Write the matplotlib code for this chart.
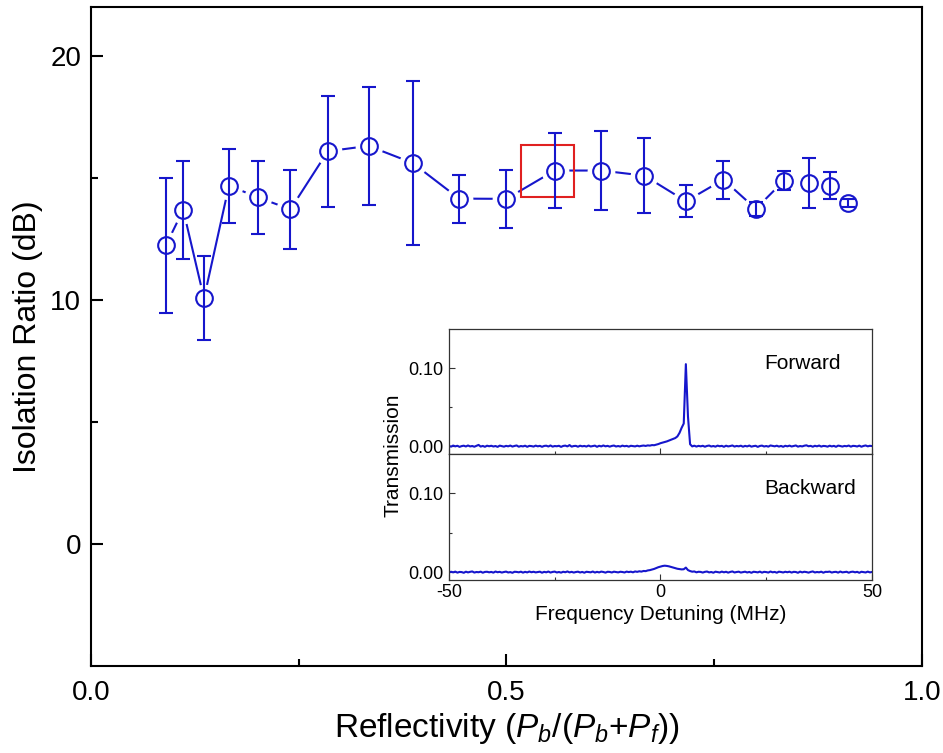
import numpy as np
import matplotlib
matplotlib.use('Agg')
import matplotlib.pyplot as plt
from matplotlib.patches import Rectangle
from matplotlib.ticker import FixedLocator, FormatStrFormatter

plt.rcParams['font.family'] = ['Liberation Sans', 'DejaVu Sans']
plt.rcParams['mathtext.fontset'] = 'custom'
plt.rcParams['mathtext.rm'] = 'Liberation Sans'
plt.rcParams['mathtext.it'] = 'Liberation Sans:italic'
plt.rcParams['axes.unicode_minus'] = False

# main data: isolation ratio vs reflectivity
reflectivity = [0.090, 0.111, 0.136, 0.166, 0.201, 0.240, 0.285, 0.334, 0.387, 0.443, 0.500,
                0.558, 0.614, 0.666, 0.716, 0.761, 0.800, 0.834, 0.864, 0.889, 0.911]
isolation = [12.23, 13.69, 10.06, 14.68, 14.20, 13.71, 16.09, 16.31, 15.61, 14.15, 14.14,
             15.30, 15.30, 15.09, 14.04, 14.93, 13.73, 14.89, 14.79, 14.68, 13.96]
iso_err = [2.76, 2.00, 1.72, 1.52, 1.50, 1.62, 2.27, 2.41, 3.36, 0.98, 1.20,
           1.53, 1.61, 1.53, 0.65, 0.78, 0.30, 0.40, 1.03, 0.55, 0.17]

# highlighted point (red box)
box_x0, box_x1 = 0.5175, 0.5816
box_y0, box_y1 = 14.20, 16.36

# inset spectra, transmission in units of 1e-3, sampled every 0.5 MHz from -50 to 50
forward_trace = [
    0.3, -0.6, 0.8, -0.2, 0.5, -0.9, 0.1, 0.6, -0.4, 0.9, -0.3, 0.2, -0.7, 0.4, 1.6, -0.5, 0.3, -0.8, 0.6, -0.1,
    0.5, -0.4, 0.2, -0.9, 0.7, 0.1, -0.6, 0.4, -0.2, 0.8, -0.5, 0.3, 0.9, -0.7, 0.2, -0.3, 0.6, -0.8, 0.4, 0.1,
    -0.5, 0.7, -0.2, 0.4, -0.8, 0.3, 0.6, -0.4, 0.9, -0.6, 0.2, -0.1, 0.5, -0.9, 0.3, 0.7, -0.3, 1.4, -0.6, 0.2,
    0.4, -0.7, 0.6, -0.2, 0.3, -0.5, 0.8, -0.4, 0.1, 0.7, -0.8, 0.5, -0.3, 0.9, -0.2, 0.4, -0.6, 0.3, 0.8, -0.4,
    0.2, -0.5, 0.7, -0.1, 0.4, -0.6, 0.5, 0.1, -0.3, 0.6, -0.2, 0.4, 0.8, 0.3, 1.0, 0.7, 1.4, 1.2, 1.9, 2.7,
    3.8, 4.6, 5.4, 6.1, 7.2, 8.3, 9.5, 10.4, 12.5, 17.0, 23.5, 29.0, 105.0, 38.0, 2.5, -0.3, 0.6, -0.5, 0.4, -0.2,
    0.5, -0.7, 0.3, 0.8, -0.4, 0.2, -0.6, 0.7, -0.1, 0.4, -0.8, 0.6, -0.3, 0.2, 0.9, -0.5, 0.3, -0.2, 0.6, -0.7,
    0.4, -0.3, 0.8, -0.6, 0.1, 0.5, -0.9, 0.3, 0.7, -0.4, 0.2, -0.6, 0.9, 0.4, -0.2, 0.6, -0.5, 0.3, -0.8, 0.5,
    -0.2, 0.7, -0.4, 0.3, 0.9, -0.6, 0.2, -0.3, 0.6, 1.1, -0.1, 0.4, -0.7, 0.5, -0.2, 0.8, -0.5, 0.3, 0.1, -0.6,
    0.6, -0.3, 0.4, -0.8, 0.7, 0.2, -0.5, 0.3, -0.1, 0.8, -0.6, 0.4, 0.2, -0.4, 0.7, -0.7, 0.3, 0.9, -0.2, 0.5,
    0.1]
backward_trace = [
    -0.4, 0.5, -0.2, 0.7, -0.6, 0.3, 0.1, -0.8, 0.6, -0.3, 0.4, 0.9, -0.5, 0.2, -0.1, 0.6, -0.7, 0.3, 0.5, -0.2,
    0.3, -0.6, 0.8, -0.1, 0.4, -0.5, 0.2, 0.7, -0.4, 0.1, -0.8, 0.5, 0.3, -0.2, 0.6, -0.6, 0.4, -0.3, 0.8, -0.1,
    0.5, -0.3, 0.1, 0.6, -0.7, 0.4, -0.2, 0.8, -0.5, 0.3, 0.7, -0.4, 0.2, -0.6, 0.5, -0.1, 0.9, -0.3, 0.4, -0.5,
    0.2, 0.6, -0.4, 0.3, -0.7, 0.5, 0.1, -0.2, 0.8, -0.5, 0.4, -0.3, 0.7, 0.2, -0.6, 0.5, 0.3, -0.4, 0.6, 0.1,
    -0.3, 0.5, 0.2, -0.4, 0.7, 0.1, 0.6, -0.2, 0.9, 0.4, 1.1, 0.7, 1.5, 1.3, 2.2, 2.6, 3.4, 4.1, 5.2, 6.3,
    7.1, 7.8, 8.2, 7.9, 7.4, 6.6, 5.8, 5.0, 4.3, 3.9, 3.5, 3.7, 5.8, 2.6, 1.4, 0.6, 0.9, -0.2, 0.5, 0.3,
    -0.5, 0.4, 0.8, -0.3, 0.2, -0.7, 0.6, 0.1, -0.4, 0.7, -0.2, 0.5, -0.6, 0.3, 0.9, -0.4, 0.2, 0.6, -0.5, 0.1,
    0.6, -0.4, 0.3, -0.8, 0.5, 0.2, -0.3, 0.7, -0.6, 0.4, 0.1, -0.5, 0.8, -0.2, 0.3, -0.7, 0.6, 0.2, -0.4, 0.5,
    -0.1, 0.6, -0.5, 0.4, 0.2, -0.8, 0.7, -0.3, 0.5, 0.1, -0.6, 0.3, 0.9, -0.4, 0.2, -0.2, 0.6, -0.7, 0.4, 0.3,
    0.7, -0.5, 0.2, 0.4, -0.6, 0.8, -0.3, 0.1, 0.5, -0.7, 0.3, 0.6, -0.2, 0.4, -0.8, 0.5, 0.1, -0.4, 0.7, -0.3,
    0.2]

freq = np.linspace(-50, 50, len(forward_trace))
forward = np.array(forward_trace) * 1e-3
backward = np.array(backward_trace) * 1e-3

blue = '#1616cc'

fig = plt.figure(figsize=(9.43, 7.53), dpi=100)
ax = fig.add_axes([0.0965, 0.1155, 0.8812, 0.8752])

# connecting line, white halo so the line stops short of each marker
ax.plot(reflectivity, isolation, color=blue, lw=1.5, zorder=2)
ax.plot(reflectivity, isolation, 'o', ms=20, mfc='white', mec='none', zorder=3)
ax.add_patch(Rectangle((box_x0, box_y0), box_x1 - box_x0, box_y1 - box_y0,
                       fill=False, edgecolor='#e02020', lw=1.5, zorder=4))
ax.errorbar(reflectivity, isolation, yerr=iso_err, fmt='none', ecolor=blue,
            elinewidth=1.5, capsize=4.7, capthick=1.5, zorder=5)
ax.plot(reflectivity, isolation, 'o', ms=12, mfc='none', mec=blue, mew=1.5, zorder=6)

ax.set_xlim(0, 1)
ax.set_ylim(-5, 22)
ax.xaxis.set_major_locator(FixedLocator([0, 0.5, 1.0]))
ax.xaxis.set_minor_locator(FixedLocator([0.25, 0.75]))
ax.yaxis.set_major_locator(FixedLocator([0, 10, 20]))
ax.yaxis.set_minor_locator(FixedLocator([5, 15]))
ax.xaxis.set_major_formatter(FormatStrFormatter('%.1f'))
ax.tick_params(which='both', direction='in', top=False, right=False, width=1.5, labelsize=20)
ax.tick_params(which='major', length=8.5)
ax.tick_params(which='minor', length=5)
ax.tick_params(axis='y', pad=7)
ax.tick_params(axis='x', pad=10)
for s in ax.spines.values():
    s.set_linewidth(1.5)
ax.set_xlabel(r'Reflectivity ($P_b$/($P_b$+$P_f$))', fontsize=24)
ax.set_ylabel('Isolation Ratio (dB)', fontsize=23)
ax.xaxis.set_label_coords(0.5, -0.068)
ax.yaxis.set_label_coords(-0.058, 0.5)

# inset: forward / backward transmission spectra
ax_top = fig.add_axes([0.4761, 0.3971, 0.4486, 0.1660])
ax_bot = fig.add_axes([0.4761, 0.2297, 0.4486, 0.1674])
for a, trace, name in [(ax_top, forward, 'Forward'), (ax_bot, backward, 'Backward')]:
    a.plot(freq, trace, color=blue, lw=1.5)
    a.set_xlim(-50, 50)
    a.set_ylim(-0.01, 0.15)
    a.xaxis.set_major_locator(FixedLocator([-50, 0, 50]))
    a.xaxis.set_minor_locator(FixedLocator([-25, 25]))
    a.yaxis.set_major_locator(FixedLocator([0.0, 0.1]))
    a.yaxis.set_minor_locator(FixedLocator([0.05]))
    a.yaxis.set_major_formatter(FormatStrFormatter('%.2f'))
    a.tick_params(which='both', direction='in', top=False, right=False, width=0.8,
                  labelsize=13, pad=4, color='#333333')
    a.tick_params(which='major', length=4)
    a.tick_params(which='minor', length=2.5)
    for s in a.spines.values():
        s.set_linewidth(0.9)
        s.set_color('#333333')
    a.text(24.5, 0.106, name, fontsize=15, ha='left', va='center')
ax_top.tick_params(labelbottom=False)
ax_bot.set_xticklabels(['-50', '0', '50'])
ax_bot.tick_params(axis='x', pad=3)
ax_bot.set_xlabel('Frequency Detuning (MHz)', fontsize=15, labelpad=3)
fig.text(0.4168, 0.3957, 'Transmission', rotation=90, fontsize=15, ha='center', va='center')

fig.savefig('out.png', dpi=100)
